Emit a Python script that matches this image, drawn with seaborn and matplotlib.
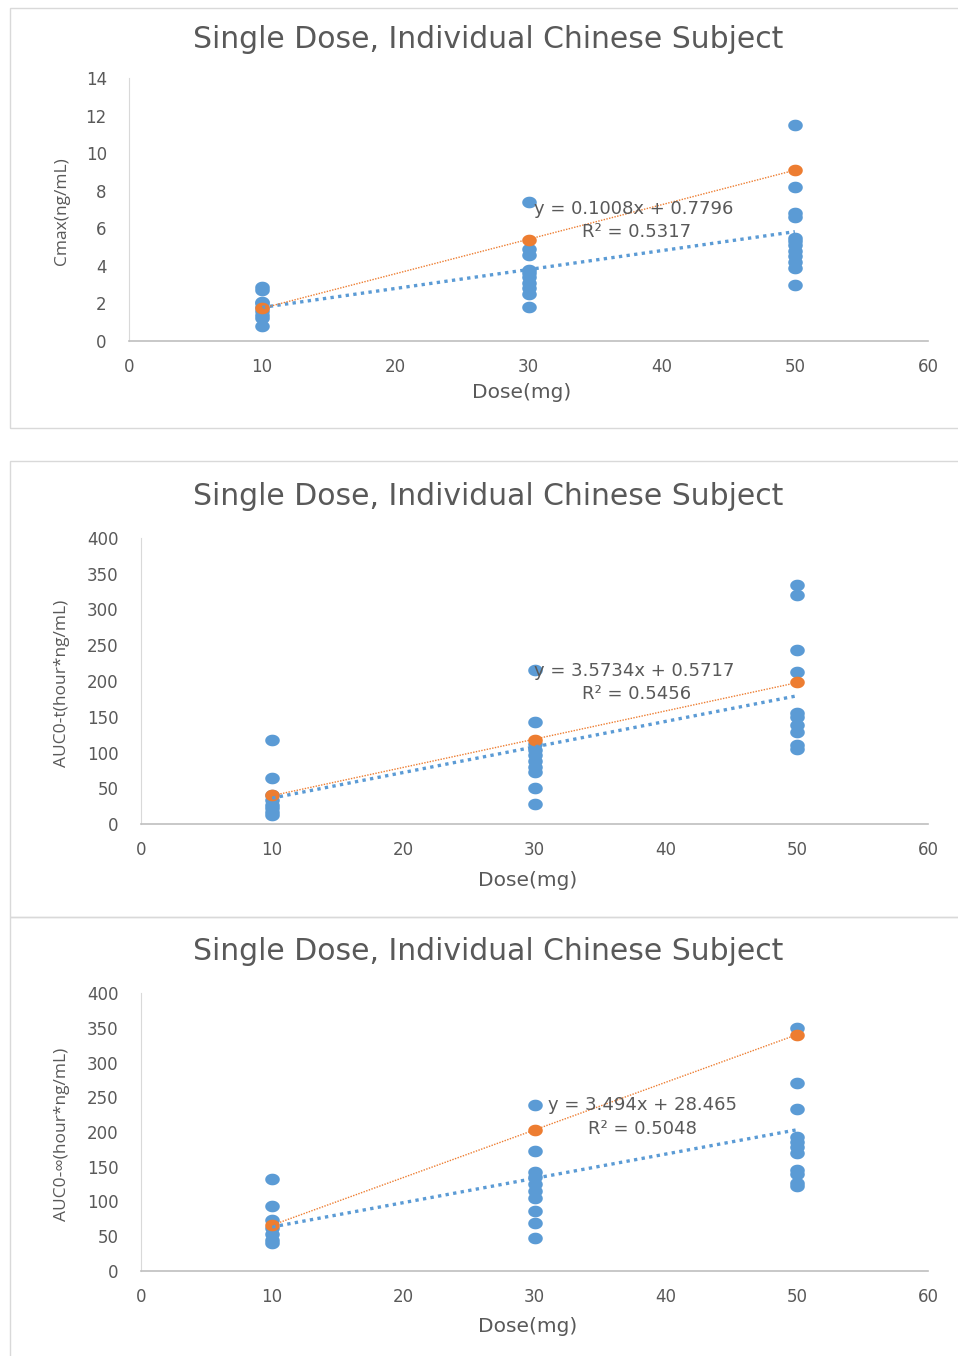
import numpy as np
import pandas as pd
import matplotlib
matplotlib.use('Agg')
import matplotlib.pyplot as plt
import seaborn as sns
from matplotlib.path import Path
from matplotlib.patches import Rectangle

sns.set_style('white')
plt.rcParams['font.family'] = ['DejaVu Sans']

doses = [10, 30, 50]

# Cmax (ng/mL), individual subjects
cmax_10 = [2.9, 2.7, 2.1, 2.0, 1.8, 1.6, 1.4, 1.2, 0.8]
cmax_30 = [7.4, 4.9, 4.6, 3.8, 3.6, 3.4, 3.1, 2.8, 2.5, 1.8]
cmax_50 = [11.5, 8.2, 6.8, 6.6, 5.5, 5.3, 5.1, 4.8, 4.5, 4.2, 3.9, 3.0]
cmax_orange = [1.75, 5.4, 9.1]

# AUC0-t (hour*ng/mL)
auct_10 = [117, 65, 40, 34, 27, 22, 17, 13]
auct_30 = [215, 142, 112, 104, 96, 88, 80, 73, 50, 28]
auct_50 = [334, 320, 244, 212, 155, 150, 138, 128, 110, 105]
auct_orange = [40, 118, 198]

# AUC0-inf (hour*ng/mL)
aucinf_10 = [133, 93, 73, 62, 53, 45, 40]
aucinf_30 = [239, 172, 143, 135, 125, 115, 105, 86, 69, 47]
aucinf_50 = [349, 271, 233, 193, 185, 178, 170, 146, 140, 127, 122]
aucinf_orange = [66, 203, 340]

# trendline coefficients shown on the chart
trend_cmax = [0.1008, 0.7796, 0.5317]
trend_auct = [3.5734, 0.5717, 0.5456]
trend_aucinf = [3.494, 28.465, 0.5048]

title = 'Single Dose, Individual Chinese Subject'
blue = '#5B9BD5'
orange = '#ED7D31'
grey_text = '#595959'

theta = np.linspace(0, 2 * np.pi, 48)
ellipse = Path(np.column_stack([1.25 * np.cos(theta), np.sin(theta)]), closed=True)

W, H = 958, 1356
fig = plt.figure(figsize=(W / 100, H / 100), dpi=100)


def to_df(vals10, vals30, vals50):
    rows = []
    for d, vals in zip(doses, [vals10, vals30, vals50]):
        for v in vals:
            rows.append({'Dose': d, 'Value': v})
    return pd.DataFrame(rows)


def draw_panel(box, axbox, df, orange_vals, trend, ylim, ystep, ylabel,
               eq_pos, r2_pos, title_y, xlabel_y, ylabel_x):
    # panel frame
    bx0, by0, bx1, by1 = box
    fig.patches.append(Rectangle((bx0 / W, 1 - by1 / H), (bx1 - bx0) / W, (by1 - by0) / H,
                                 transform=fig.transFigure, fill=False,
                                 edgecolor='#d9d9d9', linewidth=1))
    l, t, r, b = axbox
    ax = fig.add_axes([l / W, 1 - b / H, (r - l) / W, (b - t) / H])

    sns.scatterplot(data=df, x='Dose', y='Value', color=blue, marker=ellipse,
                    s=110, linewidth=0, ax=ax, zorder=3)
    odf = pd.DataFrame({'Dose': doses, 'Value': orange_vals})
    sns.scatterplot(data=odf, x='Dose', y='Value', color=orange, marker=ellipse,
                    s=110, linewidth=0, ax=ax, zorder=4)

    xs = np.array([doses[0], doses[-1]])
    slope, icpt, r2 = trend
    ax.plot(xs, slope * xs + icpt, color=blue, linestyle=(0, (1, 1.3)),
            linewidth=2.4, zorder=5)
    o_fit = np.polyfit(doses, orange_vals, 1)
    ax.plot(xs, np.polyval(o_fit, xs), color=orange, linestyle=(0, (1, 1)),
            linewidth=1.0, zorder=5)

    ax.text(eq_pos[0], eq_pos[1], f'y = {slope}x + {icpt}', fontsize=13,
            color=grey_text, va='center', ha='left', zorder=6)
    ax.text(r2_pos[0], r2_pos[1], f'R² = {r2}', fontsize=13,
            color=grey_text, va='center', ha='left', zorder=6)

    ax.set_xlim(0, 60)
    ax.set_ylim(*ylim)
    ax.set_xticks(range(0, 61, 10))
    ax.set_yticks(np.arange(ylim[0], ylim[1] + ystep / 2, ystep))
    ax.tick_params(axis='both', length=0, labelsize=12, labelcolor=grey_text)
    ax.tick_params(axis='x', pad=12)
    ax.tick_params(axis='y', pad=16)
    for s in ['top', 'right']:
        ax.spines[s].set_visible(False)
    ax.spines['left'].set_color('#d9d9d9')
    ax.spines['bottom'].set_color('#bfbfbf')
    ax.spines['bottom'].set_linewidth(1.2)
    ax.set_xlabel('')
    ax.set_ylabel('')

    fig.text(488 / W, 1 - title_y / H, title, ha='center', va='center',
             fontsize=21.5, color=grey_text)
    fig.text(((l + r) / 2 - 7) / W, 1 - xlabel_y / H, 'Dose(mg)', ha='center',
             va='center', fontsize=14.5, color=grey_text)
    fig.text(ylabel_x / W, 1 - ((t + b) / 2 + 2) / H, ylabel, ha='center',
             va='center', rotation=90, fontsize=12.5, color=grey_text,
             family='Open Sans')
    return ax


draw_panel((10, 8, 970, 428), (129, 78, 928, 341), to_df(cmax_10, cmax_30, cmax_50),
           cmax_orange, trend_cmax, (0, 14), 2, 'Cmax(ng/mL)',
           (30.4, 7.0), (34.0, 5.8), 40, 393, 62)
draw_panel((10, 461, 970, 917), (141, 538, 928, 824), to_df(auct_10, auct_30, auct_50),
           auct_orange, trend_auct, (0, 400), 50, 'AUC0-t(hour*ng/mL)',
           (30.0, 214), (33.6, 182), 496, 880, 62)
draw_panel((10, 917, 970, 1370), (141, 993, 928, 1271), to_df(aucinf_10, aucinf_30, aucinf_50),
           aucinf_orange, trend_aucinf, (0, 400), 50, 'AUC0-∞(hour*ng/mL)',
           (31.0, 239), (34.1, 205), 952, 1326, 62)

fig.savefig('out.png', dpi=100)
